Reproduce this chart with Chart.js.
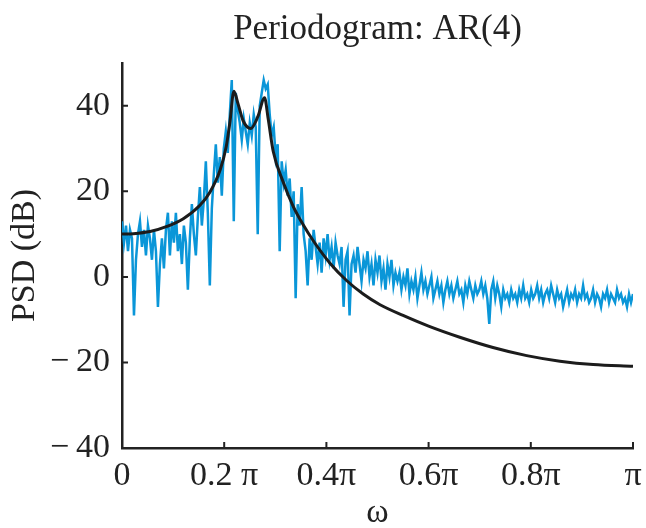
<!DOCTYPE html>
<html><head><meta charset="utf-8">
<script src="https://cdn.jsdelivr.net/npm/chart.js@4.4.1/dist/chart.umd.min.js"></script>
<style>html,body{margin:0;padding:0;background:#fff;}canvas{display:block}</style>
</head><body>
<canvas id="c" width="646" height="528"></canvas>
<script>
// Periodogram (dB), 257 frequencies from 0 to π
const periodogramDb = [
 13, 8, 12, 6, 11, 9, -9, 4, 10, 13, 7, 11, 5, 12,
 9, 4, 11, 6, -7, 3, 9, 2, 11, 15, 5, 13, 8,
 15, 6, 10, 3, 12, 8, -3, 9, 17, 10, 5, 14,
 21, 12, 18, 27, 15, -2, 16, 24, 31, 22, 28, 19, 30,
 34, 29, 38, 46, 13, 43, 39,
 36, 32, 37, 34, 31, 36, 33, 38, 35, 10, 40,
 43, 46, 44, 45, 38, 33, 35,
 28, 31, 6, 27, 22, 25, 19, 23, 14, 20, -5, 17, 12, 21,
 10, 6, -2, 9, 4, 11, 7, 3, 8, 1, 9, 5, 10, 4, 7, 2, 8, 5, 3, 7, -7, 4, 6, -9, 3,
 5, 1, 7, 3, -1, 4, 2, 6, 0, 3, -2, 4, 1, 5, -1, 2, -3, 3, 0, 4, -2, 1, -1,
 1, -3, 0, -2, 2, -4, -1, -3, 0, -5, -2, 1, -3, -1, -4, -2, 0, -5, -3, -1, -4, -2, -6, -3, -1, -4, -2, -5, -3, -1, -4, -3, -6, -2, -4, -1, -3, -5, -2, -4, -3,
 -1, -4, -2, -5, -11, -3, -1, -5, -2, -4, -7, -3, -5, -4, -6, -3, -5, -4, -6, -3, -5, -2, -5, -4, -6, -3, -5, -4, -2, -5, -3, -6, -4, -3, -5, -2, -4, -6, -3, -5, -4, -7, -5, -3, -6, -4, -5, -3, -6, -4, -5, -2, -5, -4, -6, -5, -3, -6, -4, -5, -7, -4, -5, -3, -6, -4, -5, -6, -3, -5, -4, -6, -5, -7, -4, -6, -4
];
// AR(4) true PSD (dB), frequency as fraction of π
const arFreq  = [0, 0.022, 0.055, 0.088, 0.12, 0.153, 0.172, 0.192, 0.204, 0.211, 0.219, 0.227, 0.237, 0.252, 0.266, 0.279, 0.286, 0.296, 0.315, 0.335, 0.354, 0.374, 0.407, 0.44, 0.472, 0.505, 0.55, 0.6, 0.661, 0.726, 0.792, 0.857, 0.922, 1.0];
const arPsdDb = [10.0, 10.1, 10.6, 11.8, 13.6, 16.8, 19.8, 25, 30.5, 36, 43.4, 40.5, 36.5, 34.7, 37.5, 41.9, 37, 29.3, 22.3, 16.5, 12.3, 8.5, 3.2, -0.9, -4, -6.5, -9.0, -11.5, -14.1, -16.5, -18.4, -19.7, -20.5, -20.9];

const xTickValues = [0, 0.2, 0.4, 0.6, 0.8, 1];
const xTickLabels = ['0', '0.2 \u03c0', '0.4\u03c0', '0.6\u03c0', '0.8\u03c0', '\u03c0'];
const yTickValues = [-40, -20, 0, 20, 40];
const yTickLabels = ['\u2212\u200940', '\u2212\u200920', '0', '20', '40'];

const FAMILY = "'Liberation Serif', 'DejaVu Serif', serif";
const INK = '#222222';

const innerTicks = {
  id: 'innerTicks',
  afterDraw(chart) {
    const {ctx, chartArea: a, scales: {x, y}} = chart;
    ctx.save();
    ctx.strokeStyle = INK;
    ctx.lineWidth = 2;
    ctx.beginPath();
    y.ticks.forEach(t => { const p = y.getPixelForValue(t.value); ctx.moveTo(a.left, p); ctx.lineTo(a.left + 6, p); });
    x.ticks.forEach(t => { const p = x.getPixelForValue(t.value); ctx.moveTo(p, a.bottom); ctx.lineTo(p, a.bottom - 6); });
    ctx.stroke();
    ctx.restore();
  }
};

new Chart(document.getElementById('c'), {
  type: 'line',
  data: {
    datasets: [
      {
        label: 'AR(4)',
        data: arFreq.map((f, i) => ({x: f, y: arPsdDb[i]})),
        borderColor: '#1c1c1c', borderWidth: 3, pointRadius: 0,
        cubicInterpolationMode: 'monotone', fill: false
      },
      {
        label: 'Periodogram',
        data: periodogramDb.map((v, i) => ({x: i / (periodogramDb.length - 1), y: v})),
        borderColor: '#0a96d8', borderWidth: 2.5, pointRadius: 0, tension: 0, fill: false
      }
    ]
  },
  options: {
    responsive: false, animation: false, devicePixelRatio: 1,
    layout: {padding: {left: 0, right: 13, top: 0, bottom: 0}},
    plugins: {
      legend: {display: false},
      tooltip: {enabled: false},
      title: {
        display: true, text: 'Periodogram: AR(4)', fullSize: false, color: INK,
        font: {size: 35, family: FAMILY, weight: 'normal', lineHeight: 1.2},
        padding: {top: 9, bottom: 12}
      }
    },
    scales: {
      x: {
        type: 'linear', min: 0, max: 1,
        afterBuildTicks: s => { s.ticks = xTickValues.map(v => ({value: v})); },
        afterFit: s => { s.height = 80; s.paddingLeft = 0; s.paddingRight = 0; },
        ticks: {callback: (v, i) => xTickLabels[i], font: {size: 34, family: FAMILY}, color: INK, padding: 8, maxRotation: 0, autoSkip: false},
        grid: {display: true, drawOnChartArea: false, drawTicks: false},
        border: {display: true, color: INK, width: 2.5},
        title: {display: true, text: '\u03c9', color: INK, font: {size: 34, family: FAMILY, lineHeight: 1}, padding: {top: 0, bottom: -2}}
      },
      y: {
        min: -40, max: 50,
        afterBuildTicks: s => { s.ticks = yTickValues.map(v => ({value: v})); },
        afterFit: s => { s.width = 122; },
        ticks: {callback: (v, i) => yTickLabels[i], font: {size: 34, family: FAMILY}, color: INK, padding: 12},
        grid: {display: true, drawOnChartArea: false, drawTicks: false},
        border: {display: true, color: INK, width: 2.5},
        title: {display: true, text: 'PSD (dB)', color: INK, font: {size: 34, family: FAMILY, lineHeight: 1}, padding: {top: 8.5, bottom: 0}}
      }
    }
  },
  plugins: [innerTicks]
});
</script>
</body></html>
